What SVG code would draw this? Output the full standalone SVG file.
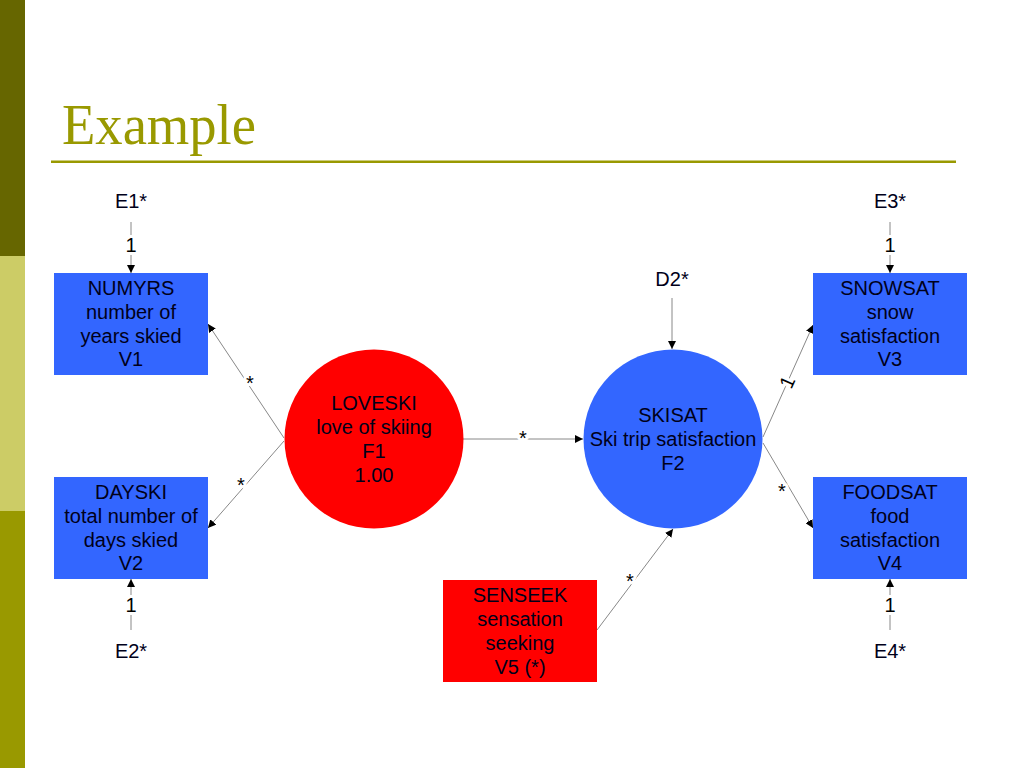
<svg xmlns="http://www.w3.org/2000/svg" width="1024" height="768" viewBox="0 0 1024 768">
<defs>
<marker id="arr" viewBox="0 0 10 10" refX="10" refY="5" markerWidth="8" markerHeight="8" markerUnits="userSpaceOnUse" orient="auto">
<path d="M0,0 L10,5 L0,10 Z" fill="#000"/>
</marker>
<style>
.t{font-family:"Liberation Sans",Arial,sans-serif;font-size:20px;fill:#00001a;text-anchor:middle}
.lbl{font-family:"Liberation Sans",Arial,sans-serif;font-size:20px;fill:#000;text-anchor:middle;stroke:#fff;stroke-width:6px;paint-order:stroke;stroke-linejoin:round}
.c{stroke:#888;stroke-width:1;fill:none;marker-end:url(#arr)}
.blue{fill:#3366FF}
.red{fill:#FF0000}
</style>
</defs>
<rect width="1024" height="768" fill="#fff"/>
<rect x="0" y="0" width="25" height="256" fill="#666600"/>
<rect x="0" y="256" width="25" height="255" fill="#CCCC66"/>
<rect x="0" y="511" width="25" height="257" fill="#999900"/>
<text x="62" y="144" font-family="'Liberation Serif','Times New Roman',serif" font-size="58" fill="#999900" textLength="194" lengthAdjust="spacingAndGlyphs">Example</text>
<rect x="51" y="160.5" width="905" height="2.5" fill="#999900"/>

<g id="connectors">
<line class="c" x1="131" y1="222" x2="131" y2="273"/>
<line class="c" x1="131" y1="630" x2="131" y2="579"/>
<line class="c" x1="890" y1="222" x2="890" y2="273"/>
<line class="c" x1="890" y1="630" x2="890" y2="579"/>
<line class="c" x1="672" y1="298" x2="672" y2="349"/>
<line class="c" x1="284" y1="438" x2="208" y2="324"/>
<line class="c" x1="284" y1="441" x2="208" y2="528"/>
<line class="c" x1="463" y1="439" x2="583" y2="439"/>
<line class="c" x1="763" y1="437" x2="813" y2="325"/>
<line class="c" x1="763" y1="443" x2="813" y2="528"/>
<line class="c" x1="597" y1="630" x2="673" y2="529"/>
<text class="lbl" x="131" y="252">1</text>
<text class="lbl" x="131" y="612">1</text>
<text class="lbl" x="890" y="252">1</text>
<text class="lbl" x="890" y="612">1</text>
<text class="lbl" x="250" y="390">*</text>
<text class="lbl" x="241" y="492">*</text>
<text class="lbl" x="523" y="445">*</text>
<text class="lbl" x="787" y="389" transform="rotate(-66 787 382)">1</text>
<text class="lbl" x="782" y="498">*</text>
<text class="lbl" x="630" y="588">*</text>
</g>

<g id="E1"><text class="t" x="131" y="208">E1*</text></g>
<g id="E2"><text class="t" x="131" y="658">E2*</text></g>
<g id="E3"><text class="t" x="890" y="208">E3*</text></g>
<g id="E4"><text class="t" x="890" y="658">E4*</text></g>
<g id="D2"><text class="t" x="672" y="286">D2*</text></g>

<g id="V1">
<rect class="blue" x="54" y="273" width="154" height="102"/>
<text class="t" x="131" y="295">NUMYRS</text>
<text class="t" x="131" y="319">number of</text>
<text class="t" x="131" y="343">years skied</text>
<text class="t" x="131" y="366">V1</text>
</g>
<g id="V2">
<rect class="blue" x="54" y="477" width="154" height="102"/>
<text class="t" x="131" y="499">DAYSKI</text>
<text class="t" x="131" y="523">total number of</text>
<text class="t" x="131" y="547">days skied</text>
<text class="t" x="131" y="570">V2</text>
</g>
<g id="V3">
<rect class="blue" x="813" y="273" width="154" height="102"/>
<text class="t" x="890" y="295">SNOWSAT</text>
<text class="t" x="890" y="319">snow</text>
<text class="t" x="890" y="343">satisfaction</text>
<text class="t" x="890" y="366">V3</text>
</g>
<g id="V4">
<rect class="blue" x="813" y="477" width="154" height="102"/>
<text class="t" x="890" y="499">FOODSAT</text>
<text class="t" x="890" y="523">food</text>
<text class="t" x="890" y="547">satisfaction</text>
<text class="t" x="890" y="570">V4</text>
</g>
<g id="V5">
<rect class="red" x="443" y="580" width="154" height="102"/>
<text class="t" x="520" y="602">SENSEEK</text>
<text class="t" x="520" y="626">sensation</text>
<text class="t" x="520" y="650">seeking</text>
<text class="t" x="520" y="674">V5 (*)</text>
</g>
<g id="F1">
<circle class="red" cx="374" cy="439" r="89.5"/>
<text class="t" x="374" y="410">LOVESKI</text>
<text class="t" x="374" y="434">love of skiing</text>
<text class="t" x="374" y="458">F1</text>
<text class="t" x="374" y="482">1.00</text>
</g>
<g id="F2">
<circle class="blue" cx="673" cy="439" r="89.5"/>
<text class="t" x="673" y="422">SKISAT</text>
<text class="t" x="673" y="446">Ski trip satisfaction</text>
<text class="t" x="673" y="470">F2</text>
</g>
</svg>
